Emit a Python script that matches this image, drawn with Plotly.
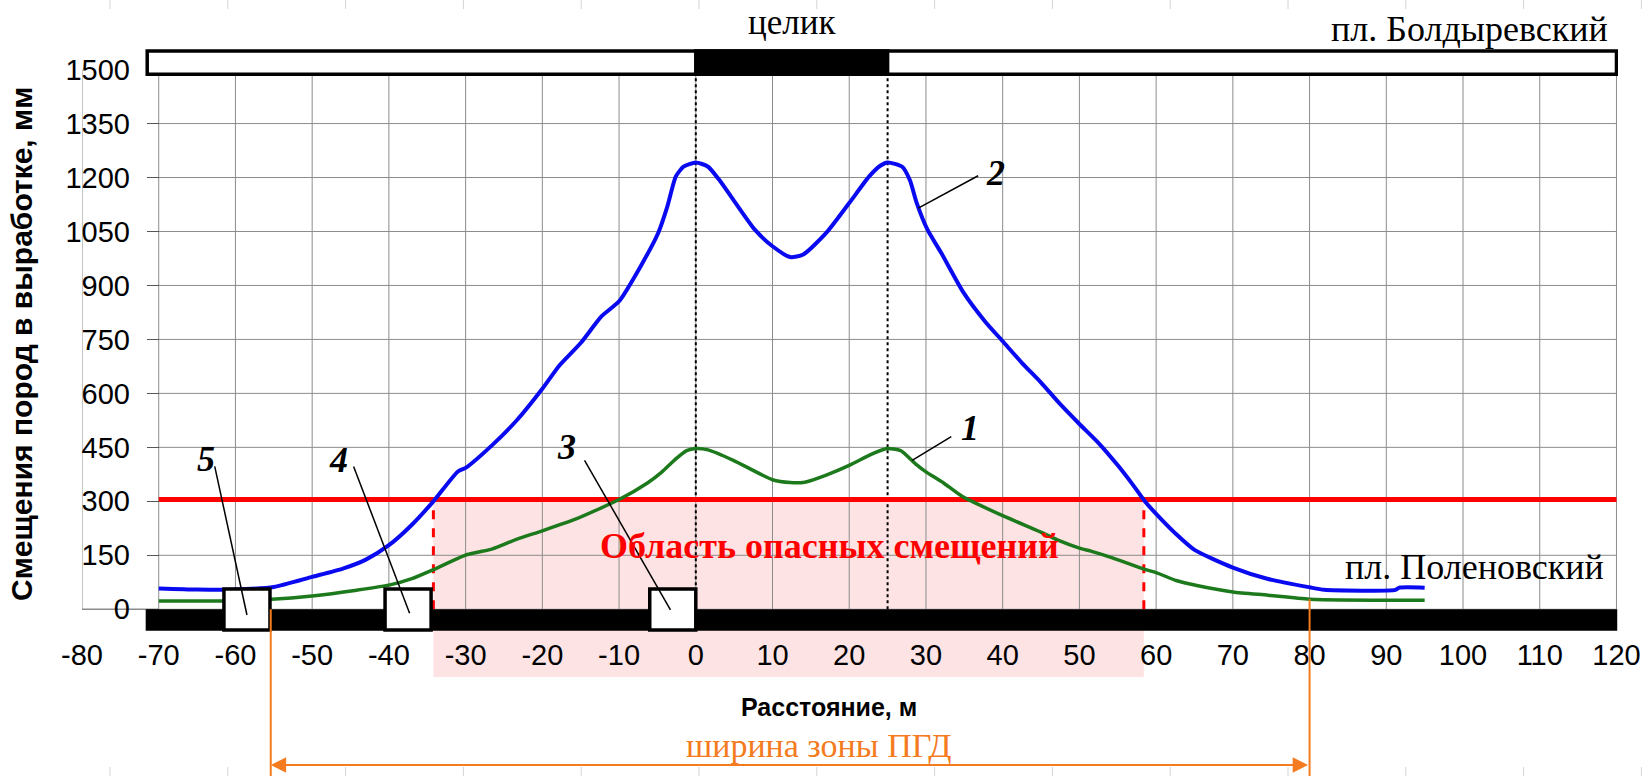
import plotly.graph_objects as go

# ---------------- data ----------------
# curve 2 (blue) : displacement in the working of пл. Болдыревский
blue_x = [-70, -65, -60, -55, -50, -46, -43, -40, -37, -34.2, -31, -30, -26.5, -23.3, -20, -17.8,
          -15, -12.3, -10, -7.2, -4.9, -3.7, -2.6, -1.6, 0, 1.6, 3, 4.9, 7.7, 10, 12.3, 14, 17,
          20, 22.6, 24, 25, 26.9, 27.9, 28.8, 30.2, 32, 34.9, 37.7, 40, 42.5, 45, 47.5, 50, 52.5,
          55, 57, 58.5, 60, 62.5, 65, 70, 74.6, 80, 81.9, 91.2, 91.7, 95]
blue_y = [58, 55, 55, 62, 90, 113, 138, 178, 235, 300, 383, 393, 457, 526, 613, 677,
          740, 814, 856, 953, 1046, 1120, 1203, 1230, 1242, 1230, 1195, 1138, 1055, 1009, 979, 986, 1046,
          1129, 1203, 1232, 1242, 1230, 1193, 1129, 1055, 990, 880, 800, 745, 685, 630, 570, 515, 462,
          400, 345, 301, 265, 211, 165, 116, 84, 61, 54, 54, 60, 60]
# curve 1 (green) : displacement in the working of пл. Поленовский
green_x = [-70, -61.6, -55.3, -50, -44.2, -40, -37, -34.2, -30.1, -28.3, -26.5, -23.3, -20, -15.6,
           -10, -6.3, -4.4, -2.6, -1.2, 0, 1.6, 4.9, 10, 12.3, 14.2, 17, 20, 23, 24.9, 26.7, 28.6,
           30, 32.3, 34.7, 40, 44.9, 47.2, 50, 51.6, 54.3, 58.5, 60, 62.6, 65.3, 70, 74.6, 80, 95]
green_y = [23, 23, 27.5, 37, 53, 67, 85, 110, 150, 159, 168, 195, 218, 251,
           305, 351, 382, 418, 441, 447, 443, 414, 360, 352, 353, 373, 400, 432, 447, 441, 405,
           382, 351, 314, 260, 215, 192, 170, 161, 143, 111, 102, 80, 66, 48, 39, 28, 25]

threshold = 305                 # dangerous displacement level, mm
danger_zone = [-34.2, 58.4]     # where curve 2 crosses the threshold
pillar = [0, 25]                # целик
pgd_zone = [-55.4, 80]          # ширина зоны ПГД
pgd_right_start = 28            # green level at x = 80

x_ticks = list(range(-80, 121, 10))
x_tick_text = [str(v) for v in x_ticks]
y_ticks = list(range(0, 1501, 150))

box_labels = ["5", "4", "3"]
box_x0 = [-61.5, -40.5, -6]
box_x1 = [-55.5, -34.5, 0]

callout_labels = ["5", "4", "3", "2", "1"]
callout_text_x = [-63.8, -46.6, -16.8, 39.0, 35.8]
callout_text_y = [418, 414, 450, 1212, 505]
callout_from_x = [-62.7, -44.6, -14.5, 36.8, 33.3]
callout_from_y = [397, 397, 414, 1205, 480]
callout_to_x = [-58.5, -37.3, -3.3, 29.0, 28.2]
callout_to_y = [-16, -11, -2, 1115, 414]

# ---------------- layout constants ----------------
Y0, Y1 = -66, 1560
X0, X1 = -80, 120.2
ML, MR, MT, MB = 82, 28, 48, 143
W, H = 1646, 776
PLOT_H = H - MT - MB
PLOT_W = W - ML - MR
SANS = "Liberation Sans, Arial, sans-serif"
SERIF = "Liberation Serif, Times New Roman, serif"
ORANGE = "#f47b20"
GRID = "#8c8c8c"
RULER_START, RULER_STEP, RULER_N = 110, 117.8, 14   # faint page-ruler ticks (px)


def ypap(v):
    return (v - Y0) / (Y1 - Y0)


def pxpap(py):
    return (H - MB - py) / PLOT_H


def pxpapx(px):
    return (px - ML) / PLOT_W


fig = go.Figure()

fig.add_trace(go.Scatter(x=[-70, 120], y=[threshold, threshold], mode="lines",
                         line=dict(color="#ff0000", width=5), hoverinfo="skip"))
fig.add_trace(go.Scatter(x=green_x, y=green_y, mode="lines",
                         line=dict(color="#1c7a1c", width=3.5, shape="spline", smoothing=0.6),
                         name="1"))
fig.add_trace(go.Scatter(x=blue_x, y=blue_y, mode="lines",
                         line=dict(color="#0a0af0", width=4, shape="spline", smoothing=0.6),
                         name="2"))

shapes = []
# pink dangerous area (extends below the axis)
shapes.append(dict(type="rect", xref="x", yref="paper", x0=danger_zone[0], x1=danger_zone[1],
                   y0=pxpap(677), y1=ypap(threshold), fillcolor="#fde3e3", line=dict(width=0),
                   layer="below"))
# grid lines
for v in y_ticks:
    shapes.append(dict(type="line", xref="x", yref="y", x0=-70, x1=120, y0=v, y1=v,
                       line=dict(color=GRID, width=1), layer="below"))
for v in x_ticks:
    shapes.append(dict(type="line", xref="x", yref="y", x0=v, x1=v, y0=0, y1=1500,
                       line=dict(color=GRID, width=1), layer="below"))
shapes.append(dict(type="line", xref="x", yref="y", x0=-80, x1=-70, y0=0, y1=0,
                   line=dict(color=GRID, width=1.5), layer="below"))
# faint ruler ticks at the page edges
for k in range(RULER_N):
    xp = pxpapx(RULER_START + RULER_STEP * k)
    shapes.append(dict(type="line", xref="paper", yref="paper", x0=xp, x1=xp,
                       y0=pxpap(0), y1=pxpap(9), line=dict(color="#d4d4d4", width=1), layer="below"))
    shapes.append(dict(type="line", xref="paper", yref="paper", x0=xp, x1=xp,
                       y0=pxpap(767), y1=pxpap(H), line=dict(color="#d4d4d4", width=1), layer="below"))
# dashed red borders of the dangerous zone
for xv in danger_zone:
    shapes.append(dict(type="line", xref="x", yref="y", x0=xv, x1=xv, y0=0, y1=threshold,
                       line=dict(color="#ff0000", width=3, dash="dash"), layer="between"))
# dotted pillar borders
for xv in pillar:
    shapes.append(dict(type="line", xref="x", yref="y", x0=xv, x1=xv, y0=0, y1=1490,
                       line=dict(color="black", width=2, dash="dot"), layer="between"))
# top seam (пл. Болдыревский) with pillar
shapes.append(dict(type="rect", xref="x", yref="y", x0=-71.5, x1=120, y0=1487, y1=1552,
                   fillcolor="white", line=dict(color="black", width=3.5), layer="above"))
shapes.append(dict(type="rect", xref="x", yref="y", x0=pillar[0], x1=pillar[1], y0=1487, y1=1552,
                   fillcolor="black", line=dict(color="black", width=3.5), layer="above"))
# bottom seam (пл. Поленовский)
shapes.append(dict(type="rect", xref="x", yref="y", x0=-71.7, x1=120.1, y0=-60, y1=0,
                   fillcolor="black", line=dict(width=0), layer="above"))
for x0, x1 in zip(box_x0, box_x1):
    shapes.append(dict(type="rect", xref="x", yref="y", x0=x0, x1=x1, y0=-58, y1=56,
                       fillcolor="white", line=dict(color="black", width=3.5), layer="above"))
# callout leader lines
for fx, fy, tx, ty in zip(callout_from_x, callout_from_y, callout_to_x, callout_to_y):
    shapes.append(dict(type="line", xref="x", yref="y", x0=fx, y0=fy, x1=tx, y1=ty,
                       line=dict(color="black", width=1.5), layer="above"))
# orange PGD zone verticals
shapes.append(dict(type="line", xref="x", yref="paper", x0=pgd_zone[0], x1=pgd_zone[0],
                   y0=ypap(0), y1=pxpap(H), line=dict(color=ORANGE, width=2), layer="above"))
shapes.append(dict(type="line", xref="x", yref="paper", x0=pgd_zone[1], x1=pgd_zone[1],
                   y0=ypap(pgd_right_start), y1=pxpap(H), line=dict(color=ORANGE, width=2),
                   layer="above"))

annotations = []
# double arrow
annotations.append(dict(x=pgd_zone[0], y=pxpap(765), xref="x", yref="paper",
                        ax=pgd_zone[1], ay=0, axref="x", ayref="pixel", text="",
                        showarrow=True, arrowhead=2, arrowside="end+start", arrowsize=1.4,
                        arrowwidth=2.2, arrowcolor=ORANGE))
annotations.append(dict(x=16, y=pxpap(745), xref="x", yref="paper",
                        xanchor="center", yanchor="middle",
                        text="ширина зоны ПГД", showarrow=False,
                        font=dict(family=SERIF, size=34, color=ORANGE)))
annotations.append(dict(x=pxpapx(829), xref="paper", y=pxpap(707), yref="paper", text="Расстояние, м",
                        xanchor="center", yanchor="middle",
                        showarrow=False, font=dict(family=SANS, size=25, color="black", weight="bold")))
annotations.append(dict(x=pxpapx(21), xref="paper", y=pxpap(344), yref="paper",
                        xanchor="center", yanchor="middle",
                        text="Смещения пород в выработке, мм",
                        textangle=-90, showarrow=False,
                        font=dict(family=SANS, size=30, color="black", weight="bold")))
annotations.append(dict(x=12.5, xref="x", y=pxpap(23), yref="paper", text="целик", showarrow=False,
                        xanchor="center", yanchor="middle",
                        font=dict(family=SERIF, size=35, color="black")))
annotations.append(dict(x=119.2, xref="x", y=pxpap(29), yref="paper", text="пл. Болдыревский",
                        xanchor="right", yanchor="middle", showarrow=False,
                        font=dict(family=SERIF, size=36, color="black")))
annotations.append(dict(x=118.7, xref="x", y=118, yref="y", text="пл. Поленовский",
                        xanchor="right", yanchor="middle", showarrow=False,
                        font=dict(family=SERIF, size=36, color="black")))
annotations.append(dict(x=17.4, xref="x", y=176, yref="y", text="Область опасных смещений",
                        xanchor="center", yanchor="middle",
                        showarrow=False, font=dict(family=SERIF, size=36, color="#ff0000", weight="bold")))
for lab, tx, ty in zip(callout_labels, callout_text_x, callout_text_y):
    annotations.append(dict(x=tx, y=ty, xref="x", yref="y", text=lab, showarrow=False,
                            xanchor="center", yanchor="middle",
                            font=dict(family=SERIF, size=36, color="black", weight="bold", style="italic")))

fig.update_layout(
    width=W, height=H,
    margin=dict(l=ML, r=MR, t=MT, b=MB, pad=0, autoexpand=False),
    paper_bgcolor="white", plot_bgcolor="rgba(0,0,0,0)",
    showlegend=False,
    shapes=shapes, annotations=annotations,
    xaxis=dict(range=[X0, X1], tickvals=x_ticks, ticktext=x_tick_text, showgrid=False,
               zeroline=False, showline=False, ticks="", ticklabelstandoff=2, automargin=False,
               tickfont=dict(family=SANS, size=29, color="black")),
    yaxis=dict(range=[Y0, Y1], tickvals=y_ticks, showgrid=False, zeroline=False, showline=False,
               anchor="free", position=(-70 - X0) / (X1 - X0), ticks="outside", ticklen=12,
               tickcolor="#555555", ticklabelstandoff=11, automargin=False,
               tickfont=dict(family=SANS, size=29, color="black")),
)

fig.write_html("out.html", config={"displayModeBar": False},
               post_script="document.body.style.margin='0px';")
